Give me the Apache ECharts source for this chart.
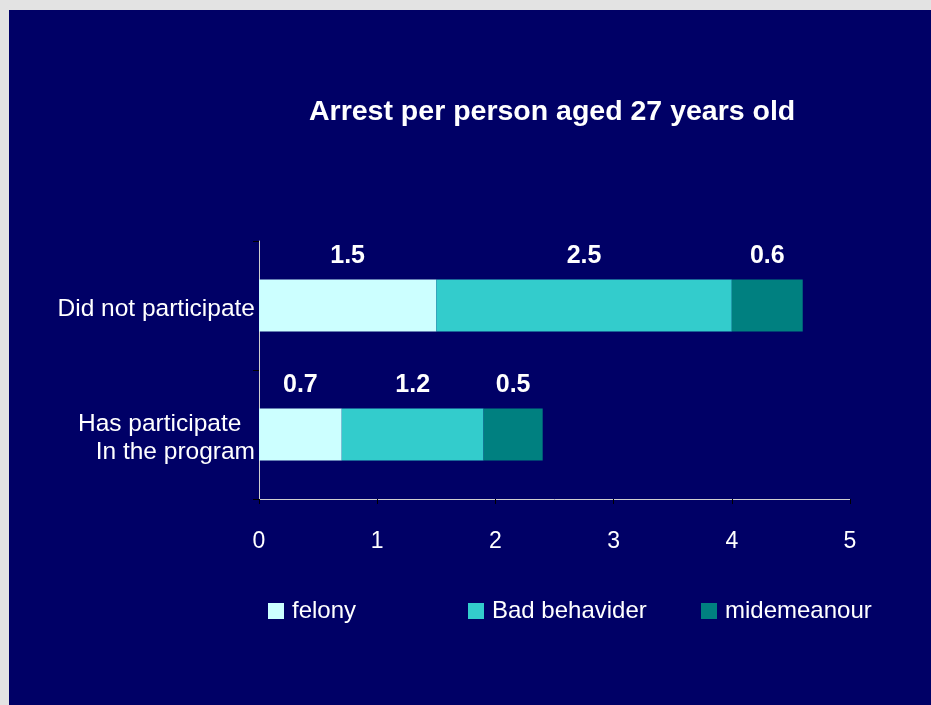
<!DOCTYPE html>
<html>
<head>
<meta charset="utf-8">
<script src="https://cdn.jsdelivr.net/npm/echarts@6/dist/echarts.min.js"></script>
<style>
  html, body { margin: 0; padding: 0; background: #e3e3e3; width: 931px; height: 705px; overflow: hidden; }
  #chart { position: absolute; left: 9px; top: 10px; width: 922px; height: 695px; }
</style>
</head>
<body>
<div id="chart"></div>
<script>
// Arrests per person at age 27, split by offence type
const categories = ['Has participate  \nIn the program', 'Did not participate'];
const seriesNames = ['felony', 'Bad behavider', 'midemeanour'];
const felony = [0.7, 1.5];
const badBehavider = [1.2, 2.5];
const midemeanour = [0.5, 0.6];
const xTicks = { min: 0, max: 5, interval: 1 };

const colors = ['#ccffff', '#33cccc', '#008080'];
const font = '"Liberation Sans", Arial, Helvetica, sans-serif';

const chart = echarts.init(document.getElementById('chart'));

function barSeries(name, values, color) {
  return {
    name: name,
    type: 'bar',
    stack: 'total',
    data: values,
    barWidth: 52,
    itemStyle: { color: color },
    label: {
      show: true,
      position: 'top',
      distance: 11,
      color: '#ffffff',
      fontFamily: font,
      fontWeight: 'bold',
      fontSize: 25
    }
  };
}

function legendAt(name, left) {
  return {
    data: [name],
    left: left,
    top: 589,
    padding: 0,
    itemWidth: 16,
    itemHeight: 16,
    icon: 'rect',
    itemStyle: { borderWidth: 0 },
    textStyle: { color: '#ffffff', fontFamily: font, fontSize: 24, padding: [0, 0, 0, 3] }
  };
}

// category text: 28px lines, glyphs set slightly low in each line
const catText = { color: '#ffffff', fontFamily: font, fontSize: 24.5, lineHeight: 28, padding: [7, 0, 0, 0] };

chart.setOption({
  backgroundColor: '#000066',
  animation: false,
  title: {
    text: 'Arrest per person aged 27 years old',
    left: 295,
    top: 83,
    textStyle: { color: '#ffffff', fontFamily: font, fontWeight: 'bold', fontSize: 28.5 }
  },
  legend: [
    legendAt(seriesNames[0], 259),
    legendAt(seriesNames[1], 459),
    legendAt(seriesNames[2], 692)
  ],
  grid: { left: 250, top: 231, right: 81, bottom: 206, containLabel: false },
  xAxis: {
    type: 'value',
    min: xTicks.min,
    max: xTicks.max,
    interval: xTicks.interval,
    axisLine: { show: true, lineStyle: { color: '#d0d0d0', width: 1 } },
    axisTick: { show: true, length: 5, lineStyle: { color: '#000000' } },
    splitLine: { show: false },
    axisLabel: { color: '#ffffff', fontFamily: font, fontSize: 23, margin: 31 }
  },
  yAxis: {
    type: 'category',
    data: categories,
    axisLine: { show: true, lineStyle: { color: '#d0d0d0', width: 1 } },
    axisTick: { show: true, length: 6, lineStyle: { color: '#000000' } },
    axisLabel: {
      color: '#ffffff', fontFamily: font, fontSize: 24.5,
      margin: 4, align: 'right',
      formatter: function (v) {
        return v.split('\n').map(function (s) { return '{c|' + s + '}'; }).join('\n');
      },
      rich: { c: catText }
    }
  },
  series: [
    barSeries(seriesNames[0], felony, colors[0]),
    barSeries(seriesNames[1], badBehavider, colors[1]),
    barSeries(seriesNames[2], midemeanour, colors[2])
  ]
});
</script>
</body>
</html>
